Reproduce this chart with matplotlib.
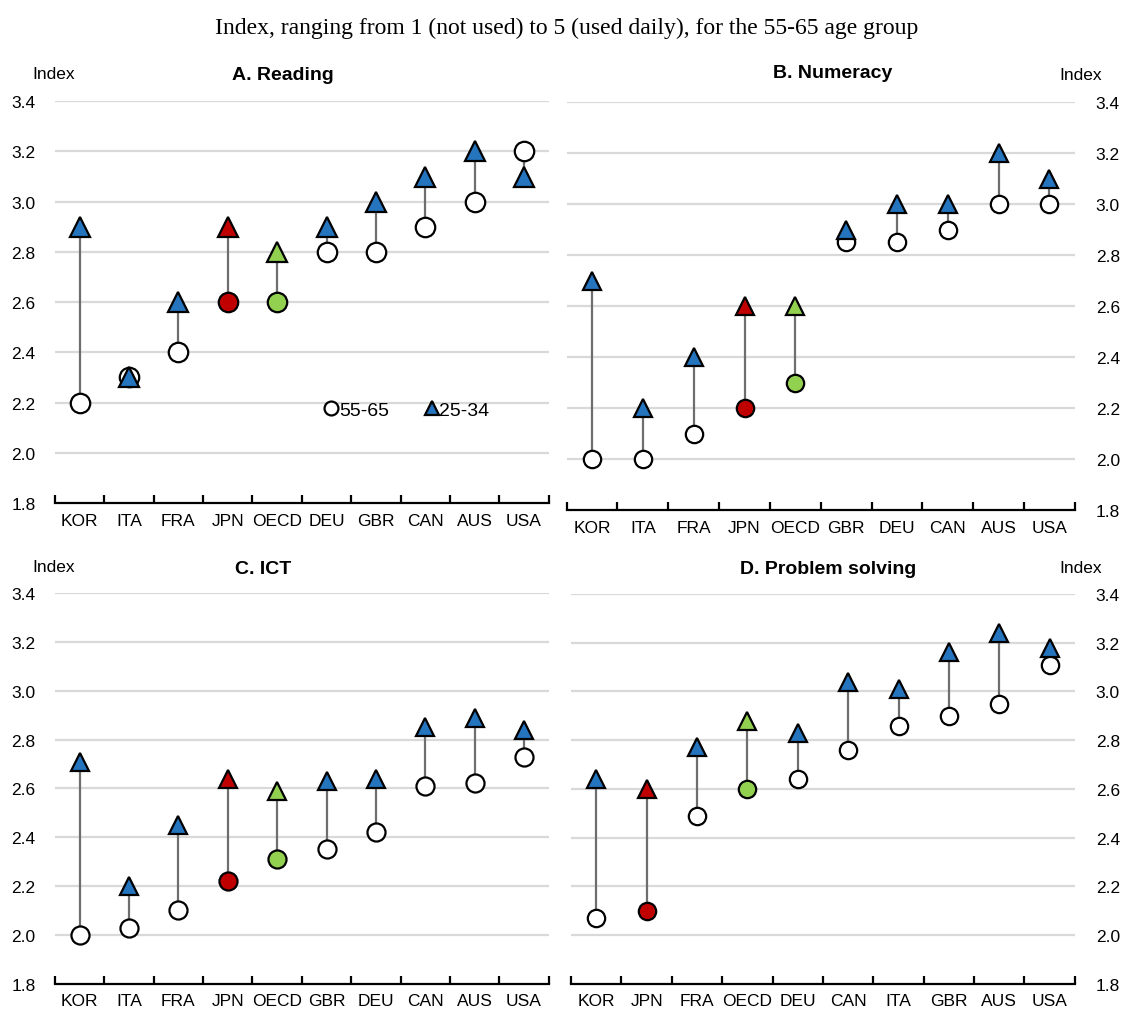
import matplotlib
matplotlib.use('Agg')
import matplotlib.pyplot as plt
from matplotlib.lines import Line2D

plt.rcParams['font.family'] = ['Liberation Sans Narrow', 'Liberation Sans', 'DejaVu Sans']

# data
cats_a = ['KOR', 'ITA', 'FRA', 'JPN', 'OECD', 'DEU', 'GBR', 'CAN', 'AUS', 'USA']
old_a = [2.2, 2.3, 2.4, 2.6, 2.6, 2.8, 2.8, 2.9, 3.0, 3.2]
young_a = [2.9, 2.3, 2.6, 2.9, 2.8, 2.9, 3.0, 3.1, 3.2, 3.1]

cats_b = ['KOR', 'ITA', 'FRA', 'JPN', 'OECD', 'GBR', 'DEU', 'CAN', 'AUS', 'USA']
old_b = [2.0, 2.0, 2.1, 2.2, 2.3, 2.85, 2.85, 2.9, 3.0, 3.0]
young_b = [2.7, 2.2, 2.4, 2.6, 2.6, 2.9, 3.0, 3.0, 3.2, 3.1]

cats_c = ['KOR', 'ITA', 'FRA', 'JPN', 'OECD', 'GBR', 'DEU', 'CAN', 'AUS', 'USA']
old_c = [2.0, 2.03, 2.1, 2.22, 2.31, 2.35, 2.42, 2.61, 2.62, 2.73]
young_c = [2.71, 2.2, 2.45, 2.64, 2.59, 2.63, 2.64, 2.85, 2.89, 2.84]

cats_d = ['KOR', 'JPN', 'FRA', 'OECD', 'DEU', 'CAN', 'ITA', 'GBR', 'AUS', 'USA']
old_d = [2.07, 2.1, 2.49, 2.6, 2.64, 2.76, 2.86, 2.9, 2.95, 3.11]
young_d = [2.64, 2.6, 2.77, 2.88, 2.83, 3.04, 3.01, 3.16, 3.24, 3.18]

yticks = [1.8, 2.0, 2.2, 2.4, 2.6, 2.8, 3.0, 3.2, 3.4]

BLUE = '#2474BE'
RED = '#C00000'
GREEN = '#92D050'


def fill_for(c, default):
    if c == 'JPN':
        return RED
    if c == 'OECD':
        return GREEN
    return default


def panel(ax, title, title_x, title_y, cats, old, young, side, ms):
    x = list(range(len(cats)))
    ax.set_xlim(-0.5, len(cats) - 0.5)
    ax.set_ylim(1.8, 3.4)
    for y in yticks[1:]:
        ax.axhline(y, color='#D9D9D9', lw=1.6, zorder=0)
    ax.vlines(x, [min(a, b) for a, b in zip(old, young)],
              [max(a, b) for a, b in zip(old, young)],
              color='#6E6E6E', lw=1.6, zorder=1)
    for i, c in enumerate(cats):
        ax.plot(i, old[i], 'o', ms=ms, mfc=fill_for(c, 'white'),
                mec='black', mew=1.6, zorder=2)
        ax.plot(i, young[i], '^', ms=ms, mfc=fill_for(c, BLUE),
                mec='black', mew=1.6, zorder=3)
    for s in ['top', 'left', 'right']:
        ax.spines[s].set_visible(False)
    ax.spines['bottom'].set_linewidth(1.6)
    ax.set_xticks(x)
    ax.set_xticklabels(cats, fontsize=12.5)
    ax.set_xticks([i - 0.5 for i in range(len(cats) + 1)], minor=True)
    ax.tick_params(axis='x', which='major', length=0, pad=7)
    ax.tick_params(axis='x', which='minor', direction='in', length=6, width=1.6)
    ax.set_yticks(yticks)
    ax.set_yticklabels(['%.1f' % v for v in yticks], fontsize=12.5)
    if side == 'right':
        ax.yaxis.tick_right()
        ax.tick_params(axis='y', length=0, pad=15)
        ax.text(1.053, 1.05, 'Index', transform=ax.transAxes, fontsize=12.5,
                ha='right', va='bottom')
    else:
        ax.tick_params(axis='y', length=0, pad=14)
        ax.text(-0.045, 1.05, 'Index', transform=ax.transAxes, fontsize=12.5,
                ha='left', va='bottom')
    ax.text(title_x, title_y, title, transform=ax.transAxes, fontsize=14,
            fontweight='bold', ha='center', va='bottom')


fig = plt.figure(figsize=(11.22, 10.12), dpi=100)
ax_a = fig.add_axes([0.049, 0.502, 0.440, 0.397])
ax_b = fig.add_axes([0.505, 0.495, 0.453, 0.403])
ax_c = fig.add_axes([0.049, 0.027, 0.440, 0.386])
ax_d = fig.add_axes([0.509, 0.027, 0.449, 0.385])

panel(ax_a, 'A. Reading', 0.462, 1.045, cats_a, old_a, young_a, 'left', 14)
panel(ax_b, 'B. Numeracy', 0.524, 1.053, cats_b, old_b, young_b, 'right', 12.5)
panel(ax_c, 'C. ICT', 0.421, 1.042, cats_c, old_c, young_c, 'left', 13)
panel(ax_d, 'D. Problem solving', 0.51, 1.045, cats_d, old_d, young_d, 'right', 12.5)

handles = [Line2D([], [], ls='none', marker='o', ms=10, mfc='white', mec='black', mew=1.6),
           Line2D([], [], ls='none', marker='^', ms=10, mfc=BLUE, mec='black', mew=1.6)]
ax_a.legend(handles, ['55-65', '25-34'], loc='center left', bbox_to_anchor=(0.512, 0.232),
            frameon=False, ncol=2, fontsize=14, handlelength=0.6, handletextpad=0.1,
            columnspacing=1.9)

fig.text(0.505, 0.972, 'Index, ranging from 1 (not used) to 5 (used daily), for the 55-65 age group',
         ha='center', va='center', fontsize=17, family=['Liberation Serif', 'DejaVu Serif'])

fig.savefig('out.png', dpi=100)
